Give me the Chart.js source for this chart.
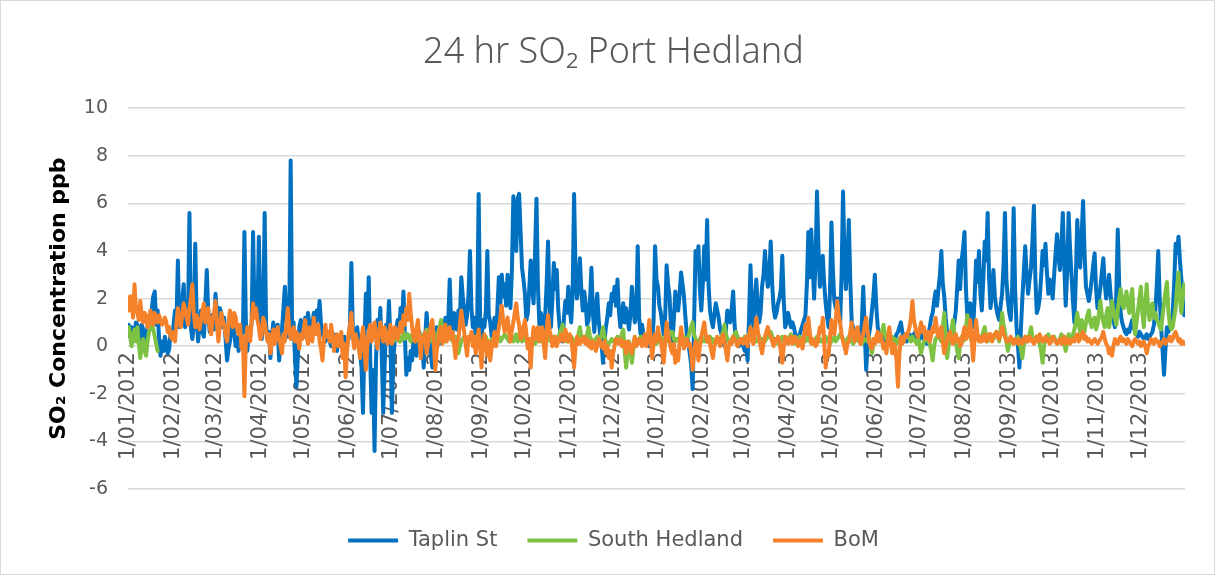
<!DOCTYPE html>
<html>
<head>
<meta charset="utf-8">
<script src="https://cdn.jsdelivr.net/npm/chart.js@4"></script>
<style>
  html, body { margin: 0; padding: 0; background: #fff; }
  #wrap { position: absolute; left: 0; top: 0; width: 1215px; height: 575px; box-sizing: border-box; border: 1px solid #d9d9d9; }
</style>
</head>
<body>
<div id="wrap"><canvas id="so2Chart"></canvas></div>
<script>
// month tick labels on the horizontal axis
const monthLabels = [
    '1/01/2012', '1/02/2012', '1/03/2012', '1/04/2012', '1/05/2012', '1/06/2012',
    '1/07/2012', '1/08/2012', '1/09/2012', '1/10/2012', '1/11/2012', '1/12/2012',
    '1/01/2013', '1/02/2013', '1/03/2013', '1/04/2013', '1/05/2013', '1/06/2013',
    '1/07/2013', '1/08/2013', '1/09/2013', '1/10/2013', '1/11/2013', '1/12/2013'
];

// daily 24 hr averages, 1/01/2012 (day 0) to 31/12/2013 (day 730), 20 days per row
const taplinSt = [
    0.9, 0.4, 0.8, 0.2, 0.5, 1.0, 0.9, 0.6, 0.2, 0.9, 0.7, 0.1, 0.3, 0.8, 1.2, 0.9, 1.6, 2.1, 2.3, 0.9,
    1.5, 0.3, -0.4, 0.2, -0.2, 0.4, 0.1, -0.3, -0.1, 0.6, 0.3, 0.9, 1.5, 1.0, 3.6, 0.8, 1.2, 1.9, 2.6, 0.8,
    1.3, 1.2, 5.6, 0.8, 0.3, 0.9, 4.3, 1.1, 0.2, 0.9, 1.5, 0.6, 0.4, 1.8, 3.2, 1.4, 0.6, 1.3, 1.0, 0.7,
    2.2, 1.4, 0.9, 1.6, 1.4, 0.8, 1.2, 0.3, -0.6, -0.1, 0.2, 0.7, 1.2, 0.5, 0.0, 0.4, -0.2, 0.1, 0.5, 0.6,
    4.8, 1.1, -0.2, 0.6, 0.5, 1.0, 4.8, 1.4, 2.0, 1.2, 4.6, 1.5, 0.3, 1.1, 5.6, 0.9, 0.3, 0.6, -0.5, 0.4,
    1.0, 0.2, 0.5, 0.9, -0.6, 0.1, 0.7, 1.6, 2.5, 1.2, 0.4, 0.9, 7.8, 0.6, 1.0, -0.5, -1.7, -0.4, 0.8, 1.1,
    0.7, 0.4, 1.2, 0.8, 1.4, 0.9, 0.4, 0.9, 1.4, 0.8, 1.5, 1.1, 1.9, 0.9, 0.6, 0.3, 0.2, 0.6, 0.4, 0.2,
    0.0, 0.3, 0.5, 0.1, -0.2, 0.2, 0.3, 0.0, 0.1, 0.4, -0.2, 0.1, 0.3, 0.9, 3.5, 0.6, 0.1, 0.5, 0.8, 0.2,
    -0.3, -0.9, -2.8, 0.2, 2.2, 0.8, 2.9, -0.5, -2.8, -1.0, -4.4, -0.6, 1.1, 0.4, 1.6, -0.4, -2.8, -0.8, 0.9, 0.6,
    1.9, 0.2, -2.8, -0.6, 0.3, 0.7, 1.1, 0.6, 1.6, 0.9, 2.3, 0.4, -1.2, -0.5, -1.0, -0.2, -0.6, 0.3, 0.0, -0.4,
    0.2, 0.6, -0.3, 0.1, -0.9, 0.3, 1.4, 0.5, 0.2, -0.4, -0.9, 0.0, 0.2, 0.8, 0.4, 0.1, 0.2, 0.9, 0.6, 1.2,
    0.5, 1.1, 2.8, 0.9, 0.6, 1.4, 1.0, 0.7, 1.5, 1.1, 2.9, 2.1, 1.5, 0.9, 1.3, 2.2, 4.0, 1.6, 0.8, 1.2,
    0.3, 1.0, 6.4, 1.2, 0.3, 1.1, 0.8, 1.5, 4.0, 1.3, 1.0, 0.4, 0.7, 1.2, 0.2, 1.6, 2.9, 1.8, 3.0, 2.1,
    2.6, 1.7, 3.0, 2.2, 1.6, 3.2, 6.3, 5.1, 4.0, 6.2, 6.4, 4.8, 3.3, 2.8, 2.2, 1.1, 1.4, 2.4, 3.6, 2.6,
    1.8, 3.9, 6.2, 2.5, 0.9, 1.4, 1.1, 0.7, 1.2, 2.6, 4.4, 1.8, 0.8, 2.0, 3.5, 2.4, 3.2, 1.6, 0.8, 0.5,
    0.2, 1.2, 1.9, 1.4, 2.5, 1.6, 1.0, 2.2, 6.4, 3.1, 2.0, 2.6, 3.7, 2.4, 1.5, 2.3, 1.8, 0.9, 1.1, 1.9,
    3.3, 1.4, 0.6, 1.5, 2.2, 1.1, 0.5, 0.1, -0.7, 0.2, 0.8, 1.2, 1.8, 1.3, 2.2, 1.9, 2.5, 1.7, 2.8, 1.5,
    0.8, 1.3, 1.8, 1.0, 1.6, 1.1, 0.7, 1.4, 2.5, 1.6, 1.0, 1.3, 4.2, 1.2, 0.5, 0.9, 0.5, 0.2, 0.1, 0.3,
    0.0, 0.4, 0.2, 1.1, 4.2, 2.8, 2.5, 1.7, 1.4, 0.9, 0.5, 1.2, 3.4, 2.6, 2.1, 0.8, 0.2, 1.1, 2.3, 1.8,
    1.5, 2.2, 3.1, 2.6, 2.1, 1.2, 0.5, 0.1, -0.3, -0.8, -1.8, 1.0, 4.0, 3.5, 4.2, 2.4, 1.5, 2.6, 4.2, 2.8,
    5.3, 2.6, 1.5, 1.1, 0.8, 1.3, 1.8, 1.5, 1.2, 0.7, 0.5, 0.2, 0.0, 0.7, 1.5, 1.2, 1.0, 1.6, 2.3, 0.9,
    0.2, 0.4, 0.0, 0.3, 0.1, 0.0, -0.2, 0.1, -0.6, 1.2, 3.4, 1.6, 0.8, 1.9, 2.8, 1.7, 1.0, 1.4, 2.5, 3.0,
    4.0, 3.1, 2.5, 3.0, 4.4, 2.6, 1.6, 1.2, 1.4, 1.8, 2.0, 2.4, 3.8, 1.9, 0.8, 1.0, 1.4, 1.1, 0.8, 1.0,
    0.8, 0.5, 0.2, 0.3, 0.5, 0.7, 0.9, 1.1, 1.3, 2.6, 4.8, 2.9, 4.9, 3.4, 2.0, 3.6, 6.5, 4.1, 2.5, 3.0,
    3.8, 2.6, 1.8, 1.2, 0.8, 2.3, 5.2, 3.2, 1.9, 1.6, 2.0, 1.4, 1.0, 3.0, 6.5, 3.7, 2.4, 3.6, 5.3, 2.8,
    1.0, 0.8, 0.5, 0.3, 0.3, 0.6, 0.4, 1.0, 2.5, 0.6, -1.0, 0.1, 0.5, 0.9, 1.5, 2.1, 3.0, 1.7, 0.8, 0.5,
    0.3, 0.4, 0.5, 0.3, 0.2, 0.5, 0.4, 0.2, 0.1, 0.2, 0.3, 0.5, 0.6, 0.8, 1.0, 0.6, 0.4, 0.3, 0.2, 0.4,
    0.5, 0.4, 0.3, 0.5, 0.6, 0.4, 0.2, 0.3, 0.5, 0.4, 0.3, 0.2, 0.1, 0.5, 0.8, 1.2, 1.4, 1.9, 2.3, 1.7,
    2.4, 3.0, 4.0, 2.6, 2.1, 1.2, 0.6, 0.5, 0.4, 0.6, 0.7, 1.0, 1.5, 2.5, 3.6, 2.4, 3.6, 4.1, 4.8, 2.4,
    1.2, 1.6, 1.8, 1.1, 0.8, 2.0, 3.6, 2.7, 4.0, 2.2, 1.5, 2.8, 4.4, 3.6, 5.6, 2.9, 1.6, 2.3, 3.2, 2.1,
    1.6, 1.3, 1.1, 1.7, 2.2, 3.4, 5.6, 2.8, 1.9, 1.4, 1.1, 2.6, 5.8, 2.4, 0.8, 0.0, -0.9, 0.7, 2.0, 3.1,
    4.2, 3.0, 2.2, 2.8, 3.3, 4.4, 5.9, 2.9, 1.4, 1.6, 2.0, 2.9, 4.0, 3.4, 4.3, 3.1, 2.2, 2.8, 2.6, 2.0,
    3.0, 3.9, 4.7, 3.8, 3.2, 4.2, 5.6, 3.4, 1.7, 3.1, 5.6, 4.1, 3.0, 1.9, 1.0, 2.9, 5.3, 4.0, 3.3, 4.6,
    6.1, 4.0, 2.5, 2.2, 1.9, 2.3, 2.8, 3.4, 3.9, 2.4, 1.6, 2.0, 2.5, 3.1, 3.7, 2.6, 2.0, 2.4, 3.0, 2.2,
    1.6, 1.1, 0.8, 2.2, 4.9, 2.6, 1.4, 1.0, 0.8, 0.6, 0.5, 0.7, 0.6, 0.9, 1.1, 0.8, 0.6, 0.5, 0.4, 0.6,
    0.5, 0.4, 0.3, 0.4, 0.5, 0.3, 0.4, 0.5, 0.6, 0.9, 1.5, 2.6, 4.0, 2.0, 0.8, -0.2, -1.2, -0.1, 0.8, 0.6,
    0.8, 1.1, 1.4, 2.6, 4.3, 3.9, 4.6, 3.6, 2.8, 1.9, 1.3
];

// no South Hedland readings from late January to late June 2012
const southHedland = [
    0.8, 0.4, 0.0, 0.5, 0.7, 0.2, 0.8, 0.1, -0.5, 0.0, 0.3, -0.2, -0.4, 0.2, 0.6, 0.8, 1.0, 0.7, 0.4, 0.1,
    -0.2, null, null, null, null, null, null, null, null, null, null, null, null, null, null, null, null, null, null, null,
    null, null, null, null, null, null, null, null, null, null, null, null, null, null, null, null, null, null, null, null,
    null, null, null, null, null, null, null, null, null, null, null, null, null, null, null, null, null, null, null, null,
    null, null, null, null, null, null, null, null, null, null, null, null, null, null, null, null, null, null, null, null,
    null, null, null, null, null, null, null, null, null, null, null, null, null, null, null, null, null, null, null, null,
    null, null, null, null, null, null, null, null, null, null, null, null, null, null, null, null, null, null, null, null,
    null, null, null, null, null, null, null, null, null, null, null, null, null, null, null, null, null, null, null, null,
    null, null, null, null, null, null, null, null, null, null, null, null, null, null, null, null, null, null, 0.3, 0.5,
    0.2, 0.4, 0.5, 0.2, 0.3, 0.5, 0.4, 0.2, 0.2, 0.4, 0.6, 0.3, 0.4, 0.5, 0.3, 0.2, 0.5, 0.3, 0.2, 0.3,
    0.4, 0.2, 0.1, 0.3, 0.5, 0.4, 0.7, 0.5, 0.4, 0.3, 0.2, 0.4, 0.3, 0.5, 0.6, 0.8, 1.1, 0.7, 0.4, 0.2,
    0.3, 0.4, 0.5, 0.3, 0.2, 0.3, 0.4, 0.0, -0.3, 0.0, 0.2, 0.3, 0.4, 0.2, 0.1, 0.2, 0.3, 0.4, 0.2, 0.3,
    0.4, 0.2, 0.3, 0.2, 0.1, 0.2, 0.3, 0.4, 0.2, 0.1, 0.1, 0.3, 0.3, 0.2, 0.2, 0.3, 0.4, 0.2, 0.3, 0.4,
    0.5, 0.4, 0.3, 0.2, 0.4, 0.3, 0.2, 0.4, 0.5, 0.2, 0.3, 0.4, 0.2, 0.3, 0.4, 0.2, 0.1, 0.3, 0.2, 0.3,
    0.3, 0.1, 0.2, 0.3, 0.4, 0.3, 0.2, 0.1, 0.1, 0.2, 0.3, 0.4, 0.2, 0.3, 0.4, 0.2, 0.3, 0.4, 0.5, 0.7,
    0.9, 0.5, 0.3, 0.2, 0.2, 0.3, 0.4, 0.3, 0.2, 0.1, 0.3, 0.5, 0.8, 0.4, 0.3, 0.2, 0.2, 0.5, 0.8, 0.4,
    0.3, 0.1, 0.2, 0.3, 0.4, 0.2, 0.3, 0.5, 0.8, 0.4, 0.2, 0.0, 0.1, 0.2, 0.3, 0.2, 0.2, 0.3, 0.4, 0.2,
    0.3, 0.5, 0.7, -0.2, -0.9, -0.3, 0.2, -0.2, -0.7, -0.1, 0.3, 0.2, 0.2, 0.3, 0.4, 0.2, 0.3, 0.1, 0.2, 0.3,
    0.4, 0.2, 0.1, 0.2, 0.3, 0.1, 0.2, 0.3, 0.4, 0.2, 0.3, 0.2, 0.2, 0.4, 0.5, 0.6, 0.6, 0.3, 0.2, 0.3,
    0.3, 0.2, 0.2, 0.3, 0.4, 0.2, 0.3, 0.4, 0.6, 0.8, 1.0, 0.5, 0.3, 0.2, 0.2, 0.3, 0.4, 0.2, 0.3, 0.2,
    0.2, 0.3, 0.4, 0.2, 0.3, 0.1, 0.2, 0.3, 0.3, 0.2, 0.4, 0.6, 0.9, 0.5, 0.3, 0.2, 0.2, 0.3, 0.4, 0.5,
    0.6, 0.4, 0.3, 0.2, 0.2, 0.3, 0.4, 0.2, 0.3, 0.5, 0.7, 0.4, 0.3, 0.2, 0.2, 0.3, 0.4, 0.2, 0.3, 0.2,
    0.2, 0.3, 0.4, 0.5, 0.6, 0.4, 0.3, 0.2, 0.2, 0.1, 0.3, 0.2, 0.4, 0.3, 0.2, 0.3, 0.3, 0.4, 0.5, 0.4,
    0.3, 0.1, 0.2, 0.3, 0.4, 0.2, 0.3, 0.4, 0.2, 0.3, 0.4, 0.2, 0.3, 0.1, 0.2, 0.3, 0.4, 0.2, 0.3, 0.2,
    0.2, 0.3, 0.4, 0.2, 0.3, 0.1, 0.2, 0.3, 0.4, 0.2, 0.3, 0.4, 0.5, 0.4, 0.3, 0.2, 0.2, 0.3, 0.4, 0.2,
    0.3, 0.1, 0.2, 0.3, 0.4, 0.2, 0.3, 0.1, 0.2, 0.3, 0.3, 0.2, 0.4, 0.0, -0.3, 0.1, 0.3, 0.2, 0.2, 0.3,
    0.4, 0.6, 0.9, 0.5, 0.3, 0.2, 0.2, 0.3, 0.4, 0.2, 0.3, 0.1, 0.2, 0.3, 0.4, 0.2, 0.3, 0.4, 0.5, 0.4,
    0.3, 0.2, 0.4, 0.3, 0.2, 0.1, 0.3, 0.0, -0.3, 0.0, 0.2, 0.3, 0.4, 0.2, 0.1, -0.2, -0.6, 0.0, 0.3, 0.4,
    0.5, 0.3, 0.2, 0.8, 1.4, 0.4, -0.5, 0.0, 0.4, 0.7, 1.1, 0.5, 0.2, -0.2, -0.5, 0.1, 0.4, 0.2, 0.3, 0.8,
    1.3, 0.7, 0.4, 0.2, 0.2, 0.4, 0.5, 0.3, 0.3, 0.2, 0.4, 0.6, 0.8, 0.4, 0.2, 0.3, 0.5, 0.4, 0.3, 0.5,
    0.6, 0.4, 0.2, 0.7, 1.4, 0.9, 0.6, 0.2, -0.2, 0.1, 0.3, 0.2, 0.1, 0.2, 0.3, 0.4, 0.2, -0.1, -0.5, 0.0,
    0.4, 0.2, 0.3, 0.5, 0.8, 0.4, 0.2, 0.3, 0.4, 0.2, 0.1, -0.2, -0.7, 0.0, 0.3, 0.4, 0.5, 0.3, 0.2, 0.3,
    0.4, 0.2, 0.1, 0.2, 0.3, 0.5, 0.4, 0.1, -0.2, 0.2, 0.5, 0.4, 0.3, 0.5, 0.7, 1.0, 1.4, 0.9, 0.6, 1.1,
    0.8, 0.6, 1.0, 1.3, 1.5, 1.0, 0.8, 1.1, 1.2, 0.7, 0.9, 1.4, 1.9, 1.3, 1.0, 0.8, 1.3, 1.6, 0.8, 1.2,
    1.9, 1.5, 1.2, 0.9, 1.5, 2.0, 2.4, 1.8, 1.6, 2.0, 2.3, 1.7, 1.4, 2.0, 2.4, 1.2, 0.5, 1.0, 1.5, 2.0,
    2.5, 1.4, 0.8, 1.7, 2.6, 1.6, 1.1, 1.5, 1.8, 1.2, 1.4, 1.1, 1.0, 0.8, 0.7, 1.3, 1.8, 2.3, 2.7, 1.5,
    0.9, 0.7, 0.8, 1.2, 1.6, 2.5, 3.1, 2.0, 1.4, 2.1, 2.6
];

const bom = [
    1.5, 2.1, 1.8, 1.2, 2.6, 1.6, 1.4, 1.1, 1.9, 1.3, 1.0, 1.4, 1.3, 0.8, 0.9, 1.5, 1.2, 0.9, 1.4, 1.1,
    1.0, 1.3, 1.1, 0.9, 1.0, 1.2, 1.0, 0.6, 0.8, 0.4, 0.3, 0.6, 0.2, 1.0, 1.6, 1.1, 0.8, 1.3, 1.8, 1.5,
    1.2, 0.9, 1.6, 2.0, 2.6, 1.4, 0.8, 1.3, 1.0, 0.7, 1.1, 1.5, 1.8, 1.0, 1.3, 1.6, 0.8, 0.5, 1.1, 1.4,
    1.9, 0.9, 0.2, 0.8, 1.4, 1.1, 0.9, 0.5, 0.2, 0.9, 1.5, 1.0, 0.8, 1.4, 1.2, 0.7, 0.5, 0.9, -0.1, 0.4,
    -2.1, 0.2, 0.8, 0.4, 0.2, 1.0, 1.8, 1.2, 1.6, 1.1, 0.8, 0.3, 0.5, 1.2, 1.0, 0.6, 0.2, 0.5, -0.3, 0.2,
    0.7, 0.1, 0.4, 0.8, 0.3, 0.0, -0.3, 0.5, 0.2, 0.9, 1.6, 0.7, 0.3, 0.5, 0.8, 0.2, 0.6, 0.3, -0.1, 0.5,
    0.3, 0.7, 1.1, 0.4, 0.1, 0.8, 0.6, 0.2, 1.2, 0.5, 0.7, 0.9, 0.2, -0.1, -0.6, 0.3, 0.9, 0.4, 0.6, 0.2,
    0.9, 0.4, -0.2, 0.3, 0.5, 0.0, 0.2, 0.6, -0.5, 0.1, -1.3, -0.2, 0.5, 0.9, 1.4, 0.4, -0.1, 0.5, 0.2, 0.0,
    -0.5, 0.3, 0.8, 0.1, -1.0, 0.0, 0.6, 0.9, 0.2, 0.5, 1.0, 0.4, -0.1, 0.5, 1.0, 0.6, 0.2, 0.8, 0.4, 0.1,
    0.5, 0.9, 0.1, 0.4, 0.8, 0.5, 0.3, 0.7, 1.0, 0.6, 1.3, 0.9, 1.6, 1.1, 2.2, 1.4, 0.8, 0.4, 0.2, 0.7,
    1.1, 0.3, -0.5, 0.4, 0.2, 0.6, -0.3, 0.1, 0.5, 0.9, 1.1, 0.2, -1.0, -0.2, 0.2, 0.7, 0.8, 0.1, 0.5, 0.9,
    0.2, 0.5, 0.8, 0.3, 0.6, 0.1, -0.5, 0.2, 0.3, 0.9, 1.5, 1.0, 0.6, 0.1, -0.4, 0.4, 0.3, 0.6, 0.0, 0.4,
    -0.3, 0.3, 0.7, 0.0, -0.9, 0.1, 0.5, 0.0, -0.4, 0.2, -0.6, -0.1, 0.2, 0.6, 0.0, 0.4, 0.8, 1.2, 1.7, 1.0,
    0.6, 0.9, 1.2, 0.6, 0.2, 0.7, 1.0, 1.4, 1.8, 1.2, 0.9, 0.3, 0.4, 0.8, 1.1, 0.5, -0.1, 0.3, -0.9, 0.2,
    0.8, 0.3, 0.5, 0.8, 0.2, 0.5, 0.8, 0.1, -0.5, 0.6, 1.3, 0.7, 0.4, 0.0, 0.1, 0.4, 0.0, 0.3, 0.2, 0.5,
    0.4, 0.2, 0.7, 0.4, 0.2, 0.5, 0.3, -0.2, -0.9, 0.0, 0.4, 0.1, 0.1, 0.3, 0.2, 0.4, 0.1, 0.3, 0.0, 0.2,
    -0.1, 0.2, 0.1, -0.2, 0.0, 0.3, 0.2, 0.0, -0.1, 0.2, -0.3, 0.0, -0.5, -0.2, -0.9, -0.3, 0.0, 0.3, 0.2, 0.1,
    0.3, 0.0, 0.2, 0.1, -0.3, 0.2, 0.1, -0.1, -0.3, 0.1, 0.4, 0.0, 0.1, 0.3, 0.2, 0.0, 0.3, 0.5, 0.0, 0.4,
    1.1, 0.3, -0.5, 0.1, 0.5, 0.2, 0.8, 0.4, 0.2, -0.2, -0.7, 0.2, 1.0, 0.5, 0.2, -0.1, -0.3, 0.1, -0.7, -0.2,
    -0.6, 0.2, 0.8, 0.3, -0.1, 0.2, 0.3, 0.0, 0.1, -0.3, -1.0, -0.2, 0.2, -0.1, -0.6, 0.0, 0.4, 0.7, 1.0, 0.5,
    0.2, 0.4, 0.1, -0.2, -0.5, 0.0, 0.2, 0.4, 0.2, 0.0, 0.3, 0.5, 0.2, -0.2, -0.6, 0.0, 0.2, 0.1, 0.4, 0.3,
    0.2, 0.0, 0.1, 0.3, 0.3, 0.1, 0.2, 0.4, 0.0, 0.4, 0.8, 0.3, 0.1, 0.6, 1.2, 0.7, 0.3, 0.0, -0.3, 0.1,
    0.4, 0.6, 0.8, 0.5, 0.4, 0.2, 0.0, 0.3, 0.2, 0.4, 0.2, -0.2, -0.7, 0.0, 0.4, 0.2, 0.1, 0.3, 0.4, 0.1,
    0.2, 0.4, 0.2, 0.0, 0.2, 0.3, -0.1, 0.4, 0.9, 0.5, 1.2, 0.6, 0.1, 0.3, 0.2, 0.0, 0.1, 0.4, 0.8, 0.6,
    1.2, 0.1, -0.9, -0.2, -0.4, 0.4, 1.1, 0.7, 0.5, 1.1, 1.9, 1.3, 1.0, 0.5, 0.2, 0.0, -0.3, 0.1, 0.2, 0.6,
    1.0, 0.5, 0.2, 0.5, 0.8, 0.4, 0.1, 0.3, 0.5, 0.9, 1.2, 0.6, 0.2, 0.0, -0.1, 0.3, 0.1, 0.4, 0.6, 0.2,
    0.5, 0.2, -0.1, 0.1, -0.3, 0.3, 0.8, 0.2, -0.3, 0.1, 0.0, -0.6, -1.7, -0.3, 0.4, 0.1, 0.2, 0.5, 0.4, 0.6,
    0.8, 1.2, 1.9, 1.1, 0.8, 0.5, 0.4, 0.7, 1.0, 0.6, 0.8, 0.3, 0.4, 0.6, 0.2, 0.5, 0.8, 0.6, 1.2, 0.7,
    0.4, 0.6, 0.8, 0.2, -0.3, 0.0, 0.2, 0.5, 0.6, 0.3, 0.1, 0.4, 0.5, 0.2, 0.3, 0.0, 0.1, 0.5, 0.8, 0.3,
    0.4, 0.7, 1.1, 0.2, -0.6, 0.3, 1.1, 0.5, 0.2, 0.4, 0.2, 0.3, 0.5, 0.2, 0.3, 0.5, 0.5, 0.2, 0.4, 0.5,
    0.6, 0.4, 0.3, 0.5, 0.8, 0.5, 0.4, 0.2, 0.2, 0.3, 0.4, 0.2, 0.1, 0.3, 0.2, 0.1, 0.3, 0.2, 0.1, 0.3,
    0.4, 0.2, 0.2, 0.4, 0.3, 0.2, 0.1, 0.3, 0.4, 0.2, 0.5, 0.3, 0.2, 0.3, 0.4, 0.2, 0.3, 0.1, 0.2, 0.4,
    0.3, 0.2, 0.1, 0.2, 0.3, 0.1, 0.2, 0.4, 0.1, 0.2, 0.3, 0.1, 0.2, 0.3, 0.2, 0.4, 0.5, 0.2, 0.3, 0.5,
    0.6, 0.3, 0.4, 0.2, 0.3, 0.2, 0.1, 0.2, 0.3, 0.2, 0.1, 0.2, 0.3, 0.4, 0.6, 0.3, 0.1, 0.0, -0.3, -0.1,
    -0.4, 0.0, 0.3, 0.2, 0.1, 0.3, 0.4, 0.2, 0.3, 0.2, 0.1, 0.3, 0.2, 0.1, 0.0, 0.2, 0.3, 0.2, 0.1, 0.2,
    0.0, 0.1, 0.2, 0.0, -0.3, 0.0, 0.1, 0.3, 0.2, 0.1, 0.3, 0.2, 0.2, 0.0, 0.1, 0.2, 0.3, 0.1, 0.2, 0.3,
    0.4, 0.2, 0.3, 0.5, 0.6, 0.4, 0.2, 0.3, 0.1, 0.2, 0.1
];

const textGrey = '#595959';

// day number (from 1/01/2012) for each month label
const startDate = Date.UTC(2012, 0, 1);
const monthStarts = monthLabels.map(function(label) {
    const parts = label.split('/');
    return (Date.UTC(+parts[2], +parts[1] - 1, +parts[0]) - startDate) / 86400000;
});

function toPoints(values) {
    return values.map(function(v, i) {
        return { x: i, y: v };
    });
}

// Excel puts the date labels just under the zero line, inside the plot:
// move the (zero-height) x axis box up to the zero line after layout
const axisAtZero = {
    id: 'axisAtZero',
    afterLayout: function(chart) {
        const xScale = chart.scales.x;
        xScale.top = chart.scales.y.getPixelForValue(0);
        xScale.bottom = chart.height;
    }
};

const ctx = document.getElementById('so2Chart');
new Chart(ctx, {
    type: 'line',
    data: {
        datasets: [
            {
                label: 'Taplin St',
                data: toPoints(taplinSt),
                borderColor: '#0070C0',
                backgroundColor: '#0070C0',
                order: 3
            },
            {
                label: 'South Hedland',
                data: toPoints(southHedland),
                borderColor: '#7DC242',
                backgroundColor: '#7DC242',
                order: 2
            },
            {
                label: 'BoM',
                data: toPoints(bom),
                borderColor: '#F5822A',
                backgroundColor: '#F5822A',
                order: 1
            }
        ]
    },
    plugins: [axisAtZero],
    options: {
        responsive: true,
        maintainAspectRatio: false,
        animation: false,
        datasets: {
            line: {
                borderWidth: 4,
                pointRadius: 0,
                tension: 0,
                spanGaps: false,
                borderCapStyle: 'round',
                borderJoinStyle: 'round'
            }
        },
        layout: {
            padding: { left: 41, right: 29, top: 0, bottom: 13 }
        },
        plugins: {
            title: {
                display: true,
                text: '24 hr SO\u2082 Port Hedland',
                color: textGrey,
                font: { family: "'Noto Sans', 'DejaVu Sans', sans-serif", size: 36, weight: 300 },
                padding: { top: 30, bottom: 34 }
            },
            legend: {
                position: 'bottom',
                title: {
                    display: true,
                    text: '',
                    font: { size: 11, lineHeight: 1 },
                    padding: 0
                },
                labels: {
                    color: textGrey,
                    font: { family: "'DejaVu Sans', sans-serif", size: 21 },
                    usePointStyle: true,
                    pointStyle: 'line',
                    pointStyleWidth: 50,
                    padding: 30,
                    sort: function(a, b) { return a.datasetIndex - b.datasetIndex; }
                }
            },
            tooltip: { enabled: false }
        },
        scales: {
            x: {
                type: 'linear',
                min: -0.5,
                max: 730.5,
                position: 'bottom',
                grid: { display: false, drawTicks: false },
                border: { display: false },
                afterBuildTicks: function(scale) {
                    scale.ticks = monthStarts.map(function(v) { return { value: v }; });
                },
                afterFit: function(scale) {
                    scale.height = 0;
                },
                ticks: {
                    autoSkip: false,
                    minRotation: 90,
                    maxRotation: 90,
                    padding: 6,
                    color: textGrey,
                    font: { family: "'DejaVu Sans', sans-serif", size: 21 },
                    callback: function(value) {
                        const idx = monthStarts.indexOf(value);
                        return idx >= 0 ? monthLabels[idx] : '';
                    }
                }
            },
            y: {
                min: -6,
                max: 10,
                grid: { color: '#d9d9d9', lineWidth: 1.5, drawTicks: false },
                border: { display: false },
                afterFit: function(scale) {
                    scale.width = 86;
                },
                ticks: {
                    stepSize: 2,
                    padding: 20,
                    color: textGrey,
                    font: { family: "'DejaVu Sans', sans-serif", size: 19 }
                },
                title: {
                    display: true,
                    text: 'SO\u2082 Concentration ppb',
                    color: '#000000',
                    font: { family: "'DejaVu Sans', sans-serif", size: 22, weight: 'bold' },
                    padding: { top: 4, bottom: 4 }
                }
            }
        }
    }
});
</script>
</body>
</html>
